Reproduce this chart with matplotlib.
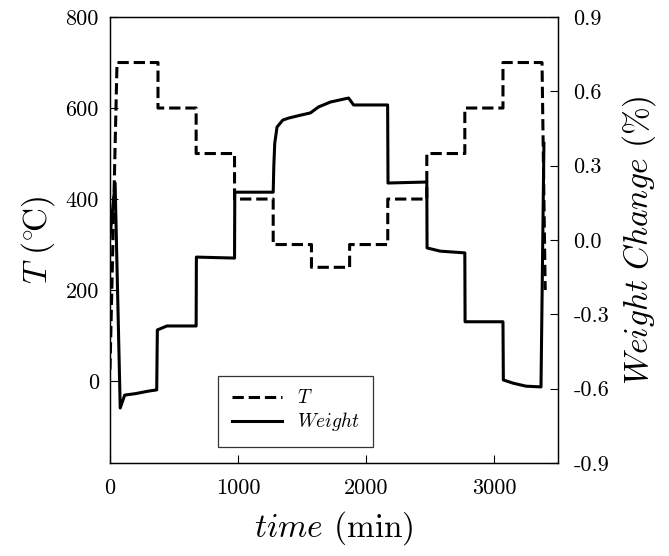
import matplotlib
matplotlib.use("Agg")
import matplotlib.pyplot as plt
from matplotlib.ticker import FixedLocator, FixedFormatter

plt.rcParams["font.family"] = "serif"
plt.rcParams["font.serif"] = ["cmr10"]
plt.rcParams["mathtext.fontset"] = "cm"
plt.rcParams["axes.unicode_minus"] = False

# temperature program (min, degC)
t_T = [0, 55, 375, 375, 673, 673, 973, 973, 1275, 1275, 1574, 1574, 1872, 1872,
       2170, 2170, 2475, 2475, 2772, 2772, 3070, 3070, 3375, 3400]
T = [25, 700, 700, 600, 600, 500, 500, 400, 400, 300, 300, 250, 250, 300,
     300, 400, 400, 500, 500, 600, 600, 700, 700, 200]

# weight change (min, %)
t_W = [0, 40, 80, 115, 200, 300, 365, 370, 445, 673, 675, 973, 975, 1275,
       1280, 1287, 1305, 1350, 1395, 1490, 1566, 1629, 1723, 1864, 1903, 2169,
       2172, 2475, 2477, 2580, 2772, 2774, 3070, 3073, 3150, 3250, 3367, 3390]
W = [0.01, 0.23, -0.678, -0.626, -0.62, -0.61, -0.605, -0.363, -0.347, -0.347,
     -0.069, -0.073, 0.193, 0.193, 0.30, 0.39, 0.456, 0.484, 0.492, 0.504,
     0.513, 0.537, 0.557, 0.573, 0.545, 0.545, 0.23, 0.234, -0.032, -0.045,
     -0.052, -0.33, -0.33, -0.565, -0.578, -0.59, -0.593, 0.39]

x_ticks = [0, 1000, 2000, 3000]
T_ticks = [0, 200, 400, 600, 800]
W_ticks = [-0.9, -0.6, -0.3, 0.0, 0.3, 0.6, 0.9]

fig = plt.figure(figsize=(6.69, 5.56), dpi=100)
ax = fig.add_axes([0.1644, 0.1673, 0.6697, 0.8021])
ax2 = ax.twinx()

lT, = ax.plot(t_T, T, color="black", lw=2.2, ls="--")
lW, = ax2.plot(t_W, W, color="black", lw=2.2, ls="-")

ax.set_xlim(0, 3500)
ax.set_ylim(-180, 800)
ax2.set_ylim(-0.9, 0.9)

ax.xaxis.set_major_locator(FixedLocator(x_ticks))
ax.xaxis.set_major_formatter(FixedFormatter([str(v) for v in x_ticks]))
ax.yaxis.set_major_locator(FixedLocator(T_ticks))
ax.yaxis.set_major_formatter(FixedFormatter([str(v) for v in T_ticks]))
ax2.yaxis.set_major_locator(FixedLocator(W_ticks))
ax2.yaxis.set_major_formatter(FixedFormatter([f"{v:.1f}" for v in W_ticks]))

ax.tick_params(axis="x", direction="in", length=6, width=0.8, pad=11, labelsize=16)
ax.tick_params(axis="y", direction="in", length=6, width=0.8, pad=8, labelsize=16)
ax2.tick_params(axis="y", direction="in", length=6, width=0.8, pad=11, labelsize=16)
for a in (ax, ax2):
    for s in a.spines.values():
        s.set_linewidth(0.9)

ax.set_xlabel(r"$time$ (min)", fontsize=24, labelpad=8)
ax.set_ylabel(r"$T\ (^{\circ}\!\mathrm{C})$", fontsize=24, labelpad=6)
ax2.set_ylabel(r"$Weight\ Change\ \mathrm{(\%)}$", fontsize=24, labelpad=8)

leg = ax.legend([lT, lW], [r"$T$", r"$Weight$"], loc="lower left",
                bbox_to_anchor=(0.241, 0.036), fontsize=14, frameon=True,
                fancybox=False, edgecolor="black", handlelength=2.6,
                handletextpad=0.75, borderpad=0.7, labelspacing=0.15,
                borderaxespad=0)
leg.get_frame().set_linewidth(0.9)
leg.set_zorder(5)

fig.savefig("out.png", dpi=100)
